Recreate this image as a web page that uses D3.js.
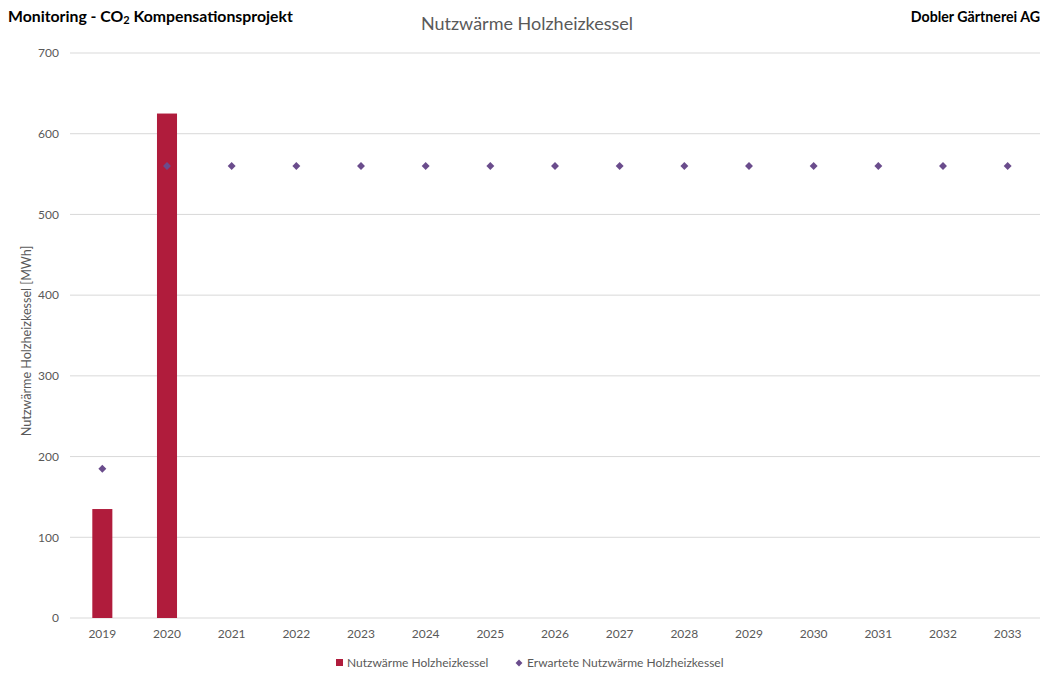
<!DOCTYPE html>
<html>
<head>
<meta charset="utf-8">
<script src="https://cdn.jsdelivr.net/npm/d3@7"></script>
<style>
  body { margin: 0; background: #fff; }
  text { font-family: Lato, "Open Sans", sans-serif; }
</style>
</head>
<body>
<svg id="chart" width="1047" height="673"></svg>
<script>
// chart data
var years = ['2019','2020','2021','2022','2023','2024','2025','2026','2027','2028','2029','2030','2031','2032','2033']
var nutzwaerme = [135, 625, null, null, null, null, null, null, null, null, null, null, null, null, null]
var erwartet = [185, 560, 560, 560, 560, 560, 560, 560, 560, 560, 560, 560, 560, 560, 560]
var yTicks = [0, 100, 200, 300, 400, 500, 600, 700]

var svg = d3.select('#chart')
var margin = {left: 70, right: 7, top: 53, bottom: 55}
var width = 1047, height = 673

var x = d3.scaleBand().domain(years).range([margin.left, width - margin.right]).paddingInner(0.69).paddingOuter(0.345)
var y = d3.scaleLinear().domain([0, 700]).range([height - margin.bottom, margin.top])

// gridlines
svg.append('g').selectAll('line').data(yTicks).enter().append('line')
  .attr('x1', margin.left).attr('x2', width - margin.right)
  .attr('y1', d => y(d)).attr('y2', d => y(d))
  .attr('stroke', '#d9d9d9').attr('stroke-width', 1)

// y axis labels
var yAxis = svg.append('g').attr('transform', 'translate(' + (margin.left - 11) + ',0)')
  .call(d3.axisLeft(y).tickValues(yTicks).tickSize(0).tickPadding(0))
yAxis.select('.domain').remove()
yAxis.selectAll('text').attr('fill', '#595959').style('font-size', '12px')

// x axis labels
var xAxis = svg.append('g').attr('transform', 'translate(0,' + (height - margin.bottom) + ')')
  .call(d3.axisBottom(x).tickSize(0).tickPadding(11))
xAxis.select('.domain').remove()
xAxis.selectAll('text').attr('fill', '#595959').style('font-size', '12px')

// bars
svg.append('g').selectAll('rect').data(years.filter((d, i) => nutzwaerme[i] != null)).enter().append('rect')
  .attr('x', d => x(d))
  .attr('width', x.bandwidth())
  .attr('y', d => y(nutzwaerme[years.indexOf(d)]))
  .attr('height', d => y(0) - y(nutzwaerme[years.indexOf(d)]))
  .attr('fill', '#b01c3c')

// expected points
var diamond = d3.symbol().type(d3.symbolDiamond2).size(40)
svg.append('g').selectAll('path').data(years).enter().append('path')
  .attr('d', diamond)
  .attr('transform', (d, i) => 'translate(' + (x(d) + x.bandwidth() / 2) + ',' + y(erwartet[i]) + ')')
  .attr('fill', '#6a4c8c')

// y axis title
svg.append('text')
  .attr('transform', 'translate(31,341) rotate(-90)')
  .attr('text-anchor', 'middle')
  .attr('fill', '#595959')
  .style('font-size', '12.6px')
  .text('Nutzwärme Holzheizkessel [MWh]')

// titles
svg.append('text').attr('x', 527).attr('y', 30).attr('text-anchor', 'middle')
  .attr('fill', '#595959').style('font-size', '18px').text('Nutzwärme Holzheizkessel')

var left = svg.append('text').attr('x', 8).attr('y', 22)
  .attr('fill', '#000').style('font-size', '15.8px').style('font-weight', 'bold')
left.append('tspan').text('Monitoring - CO')
left.append('tspan').style('font-size', '11px').attr('dy', 2).text('2')
left.append('tspan').attr('dy', -2).text(' Kompensationsprojekt')

svg.append('text').attr('x', 1040).attr('y', 22).attr('text-anchor', 'end')
  .attr('fill', '#000').style('font-size', '14.2px').style('font-weight', 'bold')
  .text('Dobler Gärtnerei AG')

// legend
var legend = svg.append('g').attr('transform', 'translate(0,663)')
legend.append('rect').attr('x', 336).attr('y', -4).attr('width', 7).attr('height', 7).attr('fill', '#b01c3c')
legend.append('text').attr('x', 347).attr('y', 4).attr('fill', '#595959').style('font-size', '12px').text('Nutzwärme Holzheizkessel')
legend.append('path').attr('d', d3.symbol().type(d3.symbolDiamond2).size(30)).attr('transform', 'translate(519,0)').attr('fill', '#6a4c8c')
legend.append('text').attr('x', 527).attr('y', 4).attr('fill', '#595959').style('font-size', '12px').text('Erwartete Nutzwärme Holzheizkessel')
</script>
</body>
</html>
